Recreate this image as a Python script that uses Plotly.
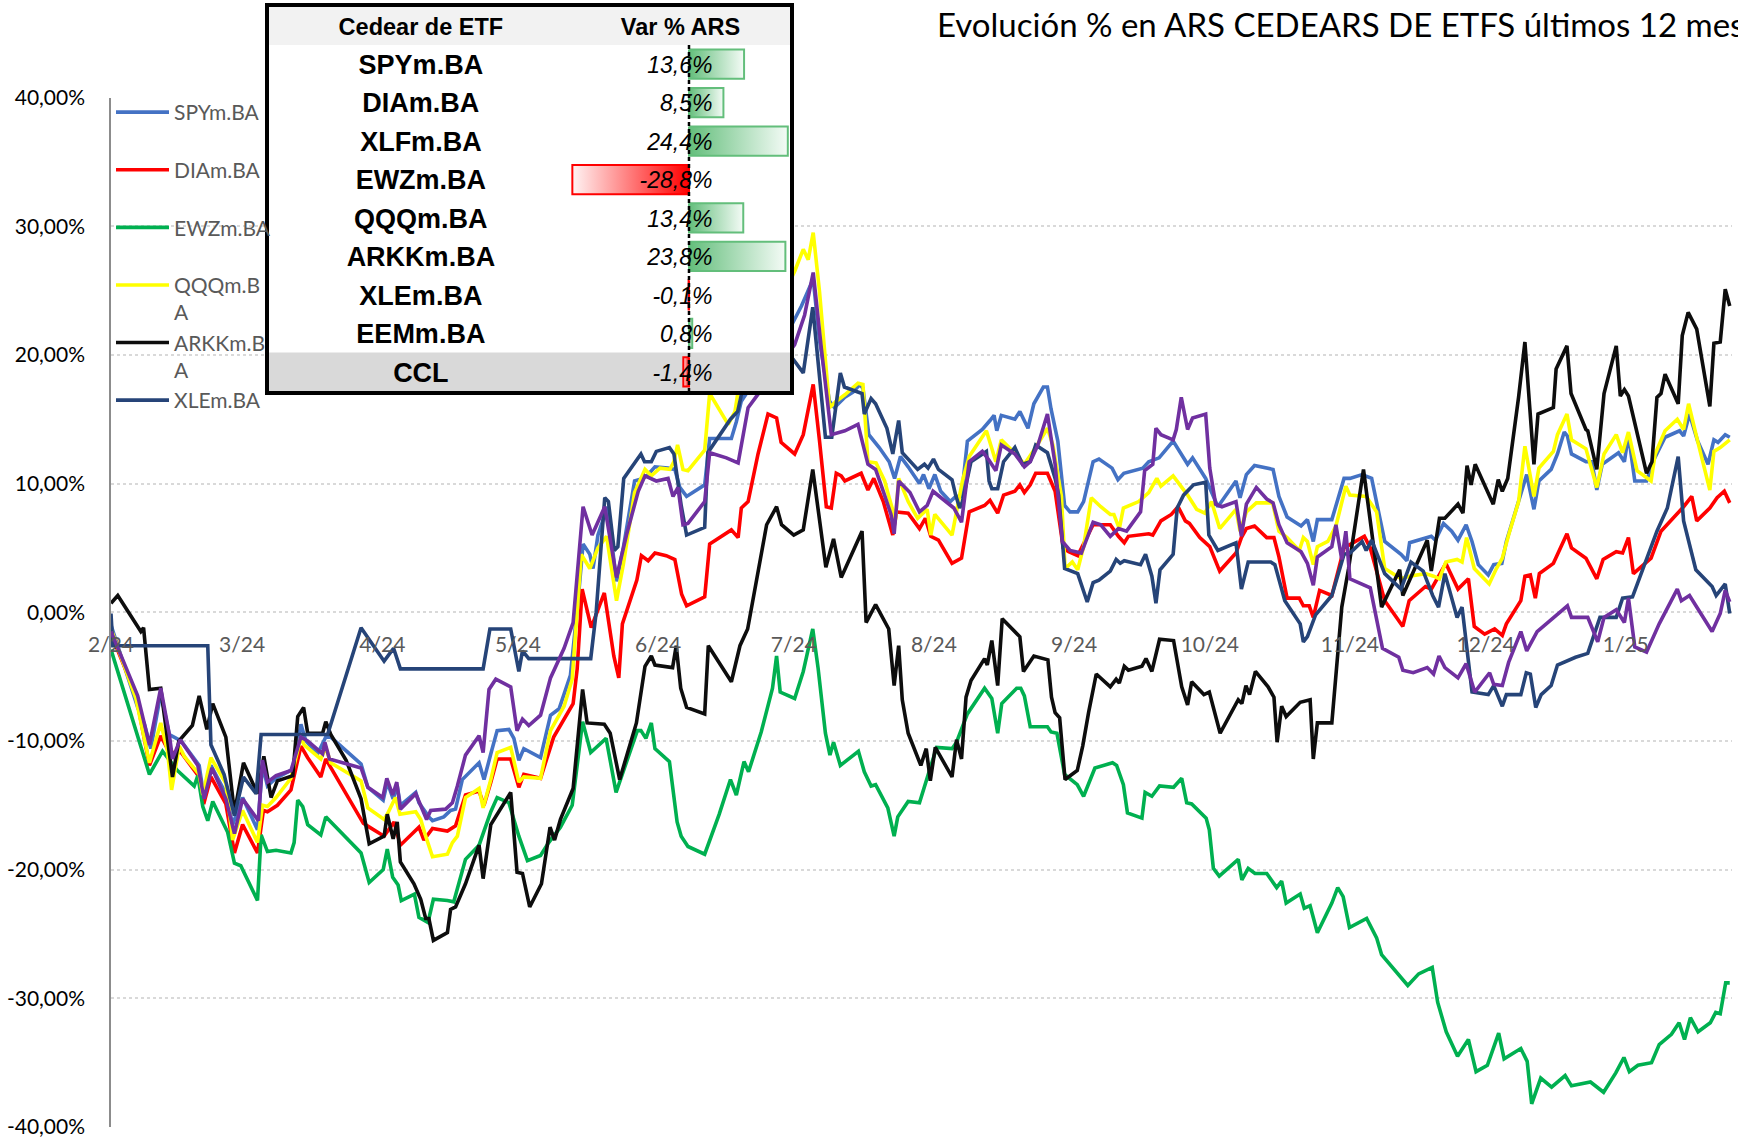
import plotly.graph_objects as go
import pandas as pd

# ---- datos (dias desde 1/2/2024, variacion % en ARS) ----
inicio = pd.Timestamp("2024-02-01")

spy_d = [0, 5.9, 7.4, 8.8, 11, 12.9, 15.5, 19.5, 20.6, 22.1, 25.4, 26.9, 29.1, 32.4, 33.5, 34.6, 36.5, 40.2, 42, 43.1, 45.7, 47.5, 48.6, 55.3, 56.8, 60.2, 61.1, 62.4, 63.3, 64, 67.4, 68.1, 70.3, 71.1, 73.6, 75.1, 76.2, 77.7, 81.4, 82.5, 84, 85.4, 88, 89.1, 90.2, 91.3, 95, 97.2, 99.1, 101.6, 103.3, 104.4, 105.9, 106.6, 107.7, 109.8, 111.8, 113.3, 115.8, 117.7, 118.8, 120.3, 123.2, 124.7, 125.8, 127.3, 131.3, 132.4, 133.5, 137.2, 138.3, 139.4, 150.8, 152.7, 155.3, 156.7, 158.9, 160, 162.3, 164.1, 165.6, 166.3, 167.6, 169.9, 172.1, 173.3, 174.6, 176.3, 178.8, 179.7, 180.9, 182.2, 183.5, 185.6, 186.8, 188.1, 189.4, 192.7, 194.4, 195.3, 195.9, 196.9, 199.9, 201, 202.8, 204.1, 206.2, 207.1, 207.9, 209.4, 210.9, 212.1, 213.8, 215.1, 217.2, 218.5, 221.4, 222.7, 224, 228.2, 229.5, 231.8, 234.9, 238.1, 239.2, 242.1, 244.8, 248.8, 249.7, 251.1, 252.9, 255.8, 257, 258.3, 260.1, 263.2, 264.6, 265.9, 266.8, 270, 272.7, 274, 276.7, 278.8, 280.3, 281.7, 285.3, 286.6, 287.2, 290.7, 292, 292.9, 294.7, 296.5, 297.9, 299.7, 301, 302.4, 304.6, 305.8, 307.6, 308.6, 311.3, 313.1, 314.7, 315.8, 318.5, 319.9, 321.4, 322.1, 323, 326.2, 327.5, 328.6, 329.8, 333.4, 334.7, 335.6, 337, 339.6, 341, 343.7, 346.9, 347.8, 349.1, 350.9, 353.2, 354.5, 355.4, 357, 358]
spy_v = [-1, -7.4, -8.7, -10.6, -6.3, -9.5, -10, -11.9, -14.5, -11.9, -14.1, -16.5, -14.4, -16.9, -11.9, -13.5, -12.9, -12.2, -8.7, -10, -11, -9.7, -9.7, -11.8, -13.6, -14.6, -13.2, -14.5, -13.5, -15, -14, -14.8, -15.9, -16.2, -15.9, -15.4, -15.3, -13, -11.7, -13, -11, -9.2, -9.1, -9.8, -11.5, -10.6, -11.3, -8, -7.5, -4.9, 0.9, 5.3, 4.5, 3.4, 6, 8.2, 2.4, 5, 10.2, 10.4, 10.7, 11.3, 11.2, 11.1, 9.7, 9, 9.9, 13.5, 13.5, 13.5, 14.8, 16.4, 22.5, 23.8, 25.9, 21.1, 16.4, 15.9, 16.7, 17.1, 17.7, 17.4, 13.8, 12.8, 11.7, 10.4, 12.1, 11.3, 10, 10.7, 9.6, 10.7, 9.4, 8.6, 9, 9, 13.3, 14.2, 14.9, 15.3, 14.1, 15.3, 15, 15.6, 14.3, 16.2, 17.5, 17.5, 15.8, 13.3, 8.3, 7.8, 7.8, 8.6, 11.7, 11.9, 11.2, 10.3, 10.8, 11.2, 11.7, 12, 13.3, 11.5, 12, 10.4, 8.2, 10.2, 8.9, 10.7, 11.4, 11.2, 11.1, 9, 7.4, 6.7, 7.2, 5.5, 7.2, 7.2, 10.4, 10.4, 10.7, 10.4, 7.8, 5.5, 4.5, 4, 5.4, 5.8, 5.9, 5.6, 6.9, 6.3, 5.6, 6.8, 5.5, 3.7, 2.9, 3.7, 3.8, 5.5, 8.6, 10.7, 8, 10.2, 11.1, 12.3, 14, 13.7, 12.3, 11.7, 11.7, 9.5, 11.5, 12.4, 11.7, 13.8, 10.2, 10.2, 11.7, 13.6, 14.1, 13.7, 15.4, 13.3, 11.5, 13.4, 13.2, 13.8, 13.6]

dia_d = [0, 5.5, 8.5, 11, 12.9, 15.5, 19.5, 20.5, 22.1, 25.4, 27.3, 29.1, 32.4, 33.7, 34.6, 36.8, 39.8, 42, 43.5, 46.4, 47.5, 55.8, 56.7, 60.4, 62.6, 64, 68.1, 69.2, 71.1, 74.4, 76.2, 78.4, 81.4, 82.5, 84, 85.4, 88.4, 90.2, 91.3, 95, 97.9, 102.2, 103.1, 104.2, 106.2, 109.1, 111.2, 112.3, 113.1, 116.3, 117.3, 118.8, 120.3, 122.8, 124.7, 126.2, 127.3, 131.3, 132.4, 137.2, 138.7, 139.4, 140.9, 143.1, 145.3, 147.2, 148.2, 151.2, 153.1, 155.3, 156.7, 158.2, 159.3, 160.4, 161.5, 162.3, 165.9, 167.4, 168.7, 170.8, 172.9, 173.7, 176.3, 178.8, 180.1, 181.3, 183, 186, 188.1, 189.8, 193.2, 194.4, 196.1, 197.4, 199.9, 201, 202, 203.3, 204.5, 207.1, 208.8, 210.6, 211.8, 213.8, 217.2, 221, 222.8, 224.1, 225, 229.5, 230.4, 232.2, 234.5, 236, 237.6, 238.5, 240.8, 243, 245.2, 248.8, 250, 251.1, 252.9, 255.6, 257.2, 258.3, 260.1, 262.8, 263.7, 265, 265.9, 267.3, 270, 270.9, 272.7, 277.2, 278.5, 281.7, 285.7, 287.1, 290.7, 292, 295.2, 297.9, 300.2, 301.5, 303.8, 306, 307.7, 308.6, 311.8, 312.7, 313.9, 315, 315.9, 319, 322, 323, 326.2, 328.6, 330, 332.9, 334.3, 335.6, 336.7, 340.6, 342.8, 347.8, 349.6, 350.7, 353.6, 355.2, 356.8, 358]
dia_v = [-1.7, -6.4, -11.9, -9.6, -10.9, -10.9, -12.8, -14.9, -12.8, -14.9, -18.7, -16.5, -18.7, -15.4, -15.5, -15, -13.8, -10.4, -11.3, -12.8, -11.4, -16.4, -16.6, -17.4, -16.3, -18.1, -16.7, -17.7, -16.8, -17, -16.6, -14.2, -13.9, -15, -13.2, -11.4, -11.4, -13.6, -12.6, -12.9, -9.7, -7.1, -4.4, 1.8, -1.2, 1.5, -3.4, -5.1, -0.9, 2.5, 4.4, 4, 4.6, 4.4, 4.1, 1.4, 0.5, 1.2, 5.3, 6.4, 5.8, 8.1, 8.6, 12.3, 15.4, 15.1, 13.2, 12.3, 13.8, 17.7, 13.3, 8.2, 8.1, 10.8, 10.6, 10.2, 10.8, 9.5, 10.4, 8.6, 6, 7.8, 7.7, 6.5, 7.3, 5.9, 5.6, 3.8, 4.2, 7.8, 8.3, 8.7, 7.7, 9.1, 9.4, 9.9, 9.3, 9.9, 10.8, 10.8, 9.4, 5, 4.7, 4.4, 6.8, 6.8, 5.9, 5.4, 5.9, 6.1, 6, 7.1, 7.6, 8.2, 7.1, 6.9, 5.8, 5.1, 3.2, 4.6, 5.8, 6.5, 6.7, 5.8, 5.8, 4.3, 1.1, 1.1, 0.5, 0.5, -0.4, 1.7, 1.3, 2.6, 5, 5.9, 5, 0.9, -1.1, 0.9, 2, 1.8, 3.8, 1.8, 2.6, -1.1, -1.7, -1.3, -1.8, -0.9, 0.9, 2.8, 2.9, 1.1, 3, 3.8, 6.1, 5, 4.2, 2.6, 4.1, 4.7, 4.6, 5.8, 3, 4.2, 6.3, 8.2, 9, 7.1, 8.1, 8.9, 9.4, 8.5]

ewz_d = [0, 8.5, 11.4, 13.6, 14.7, 18.4, 19.2, 20.3, 21.4, 22.5, 25.8, 27.3, 28.7, 32.4, 33.2, 34.6, 36.5, 39.8, 40.5, 41.3, 42.4, 43.5, 46.4, 47.5, 55.3, 57.1, 60.2, 61.1, 62.3, 63.5, 64.2, 67.1, 68.1, 70.1, 71.3, 74.4, 75.8, 78.4, 81.4, 84, 85.4, 88, 90.2, 92.1, 95, 96.8, 99.4, 102, 104.3, 106.1, 109.5, 111.7, 116.4, 117.2, 118.3, 119.5, 120.3, 123.5, 125.2, 126.1, 127.6, 131.3, 134.5, 137, 138.3, 140, 141, 143.8, 146.3, 147.2, 148, 151.2, 153.1, 155.2, 156.4, 158, 159, 159.8, 161.3, 165.3, 166.6, 168.1, 169.1, 171.8, 173.2, 174, 176.3, 178.8, 180.5, 181.8, 182.6, 186, 187, 189.4, 193.2, 194.8, 196.1, 197, 200.3, 201.2, 202, 203.3, 207.1, 207.9, 209.2, 210.9, 213.7, 215.1, 217.6, 221.5, 222.4, 223.9, 224.8, 228, 228.7, 230.2, 231.9, 235, 236.8, 237.9, 239, 242.2, 242.9, 243.8, 245.1, 249.3, 250.1, 251.5, 253, 255.6, 257.8, 258.9, 259.9, 263, 263.9, 265.2, 266.8, 270, 271.3, 272.5, 273.9, 277.7, 279.9, 281, 285, 286.8, 289.2, 292.2, 293.4, 295.3, 297.8, 300.2, 301.9, 304.4, 306.9, 308.1, 311.8, 313.2, 314.2, 316.2, 318.6, 321.6, 323, 327.2, 330.1, 332.8, 334.6, 335.8, 337.7, 340.7, 342.4, 345.1, 346.8, 348, 349.3, 351, 353.7, 354.9, 355.9, 357.1, 358]
ewz_v = [-2.9, -12.6, -10.8, -11.8, -12.3, -13.5, -12.7, -15.1, -16.2, -14.7, -17.1, -19.5, -19.7, -22.4, -17.3, -18.6, -18.5, -18.7, -17.9, -14.6, -15.1, -16.5, -17.3, -15.9, -18.7, -21, -20, -18.4, -20.6, -21.2, -22.4, -21.9, -23.7, -24.1, -22.3, -22.4, -22.5, -19.2, -18.1, -15.5, -14.4, -14.8, -17.4, -19.3, -18.9, -17.9, -16.7, -15, -8.5, -10.9, -9.8, -14, -9.2, -9.2, -9.8, -8.6, -10.6, -11.6, -16.3, -17.4, -18.2, -18.8, -15.7, -13, -14.2, -11.6, -12.4, -9.3, -5.9, -3.4, -6.2, -6.7, -4.6, -1.3, -4.4, -9.4, -11.1, -10.1, -11.9, -10.8, -12.4, -13.5, -13.4, -15.2, -17.4, -15.9, -14.7, -14.8, -12.8, -11.4, -10.5, -10.6, -10.1, -7.9, -5.9, -6.7, -9.4, -7.1, -5.9, -5.9, -6.5, -8.9, -8.9, -9.3, -9.4, -12.6, -13.4, -14.3, -12.1, -11.7, -11.9, -13.4, -15.6, -16, -14, -14.3, -13.5, -13.6, -12.9, -14.8, -14.9, -16, -16.9, -19.9, -20.5, -19.2, -20.8, -19.9, -20.3, -20.3, -21.4, -20.9, -22.6, -21.9, -23, -22.8, -24.9, -22.6, -21.4, -22.1, -24.5, -23.8, -25.3, -26.6, -28.3, -29, -28.1, -27.6, -30.3, -32.6, -34.5, -33.2, -35.7, -35.2, -32.7, -34.7, -33.9, -34.9, -38.2, -36.2, -36.9, -36, -36.8, -36.5, -37.3, -35.8, -34.6, -35.7, -35.2, -35, -33.6, -32.8, -31.9, -33.2, -31.5, -32.6, -31.9, -31.1, -31.2, -28.8, -28.8]

qqq_d = [0, 5.5, 8.5, 11, 12.5, 13.4, 15.1, 16.2, 19.5, 20.3, 22.1, 25.4, 26.9, 29.1, 32.4, 33.5, 34.6, 36.5, 39.8, 42, 42.7, 46.4, 47.5, 48.6, 55.3, 56.8, 60.4, 61.1, 62.9, 63.9, 67.4, 68.5, 69.6, 71.1, 74.4, 75.5, 76.6, 78.4, 81.4, 82.3, 84, 85.4, 88.4, 90.2, 91.3, 95, 97.2, 100.2, 102, 102.9, 104, 105.9, 107.7, 109.6, 111.8, 113.3, 115.8, 118.1, 119.5, 121.4, 123.6, 124.5, 125.3, 126.5, 127.6, 131.3, 132.4, 136.5, 138, 138.8, 151.2, 153.1, 154.2, 155.3, 156.7, 158.9, 160.4, 162.3, 165.2, 166.3, 167.4, 169.2, 171.1, 172.1, 173.5, 174.2, 176.3, 178.4, 180.5, 181.3, 182.2, 186, 188.3, 189.8, 193.6, 195.7, 196.9, 199.5, 202, 204.5, 207.1, 208.3, 210.2, 211, 212.6, 213.8, 215.1, 216.8, 218.9, 221, 221.8, 223, 223.9, 227.3, 229.5, 231.3, 232.2, 234.9, 238.1, 240.1, 241.9, 243.4, 245.2, 248.8, 249.7, 251.1, 253.3, 256.9, 258.3, 260.1, 262.8, 263.7, 264.6, 265.9, 266.8, 269.1, 270.9, 273.1, 274, 277.6, 279.9, 281.7, 285.3, 287.1, 290.7, 292.5, 293.8, 295.2, 297.7, 298.8, 299.8, 301.5, 304.8, 306.4, 307.7, 309.1, 311.3, 312.7, 314.7, 315.8, 319, 319.9, 322, 323, 326.2, 328.6, 330.2, 332.9, 334.3, 335.6, 337.5, 340.6, 341.5, 343.7, 346.4, 347.8, 348.9, 350.9, 353.6, 354.5, 355.9, 358]
qqq_v = [-1.3, -6.7, -11.7, -8.6, -10.8, -13.8, -10.4, -11.2, -12.6, -14.2, -11.3, -13.3, -17.7, -15.4, -17.9, -15, -15.1, -14.4, -12.9, -9.7, -10.3, -11.4, -10.5, -11.7, -13.1, -15.2, -16.1, -15.7, -14.4, -15.7, -15.5, -16.1, -17.4, -19, -18.8, -17.9, -17.4, -14.4, -13.7, -15.2, -13, -10.9, -10.5, -13.2, -12.8, -12.9, -9.2, -7.3, -5.2, -0.4, 4.5, 3.4, 5, 5.9, 0.9, 3.7, 9.3, 11.1, 10.6, 11.2, 11.1, 11.7, 13, 11.1, 11, 12.6, 17, 14.6, 15.6, 17.4, 26.5, 28.2, 27.4, 29.5, 24.9, 15.9, 16.4, 16.9, 17.8, 17.7, 11.7, 11.6, 10.2, 8.9, 7.2, 10.4, 8.6, 7.3, 8, 6, 7.6, 6, 10.2, 12.1, 14.1, 11.7, 13.4, 12.5, 11.5, 12.8, 14.3, 13, 9, 3.4, 3.9, 3.3, 5.1, 8.9, 8.2, 7.6, 7.6, 6.5, 8.1, 8.6, 9.3, 10.4, 9.8, 10.6, 9.1, 8, 7.7, 8.6, 6.5, 8, 6.3, 7.8, 8.5, 8.5, 6.3, 5.8, 4.8, 5.8, 5.5, 3.7, 5.1, 5.5, 6.7, 9.8, 9.1, 9, 7.8, 3.4, 2.6, 2.8, 3, 2.8, 2.6, 3.9, 4.1, 3.9, 5.8, 3.4, 2.2, 3.4, 4.2, 6, 8.6, 12.9, 9, 11.2, 12.5, 13.8, 15.4, 13.4, 12.7, 9.7, 12.3, 13.8, 12.4, 14, 11, 10.2, 12.3, 14.1, 15, 14.2, 16.2, 13.3, 9.5, 12.5, 12.8, 13.4]

arkk_d = [0, 1.5, 6.6, 7.2, 8.5, 11, 13.6, 15, 18, 19.5, 21.2, 22.5, 25.4, 27.3, 29.3, 32.4, 33.8, 35.4, 36.8, 40.2, 41.3, 42.6, 43.5, 46.8, 47.5, 48.6, 52, 55.3, 57.1, 60.4, 61.1, 62.4, 63.3, 64, 67, 68.5, 69.6, 70.3, 71.3, 74.4, 75.1, 76.2, 78.4, 81.4, 82.3, 84, 88.4, 89.8, 91, 92.6, 95.2, 97.1, 98.1, 99.4, 102.2, 104.3, 105.3, 109.1, 110.4, 112.5, 116.2, 118.1, 119.5, 120.3, 124.2, 125, 126, 127.3, 131.3, 132.1, 137.2, 139.1, 140.8, 143.4, 145, 147.2, 148.3, 151, 153.1, 155.2, 156.4, 158.1, 159.8, 161.5, 166.1, 167, 169.1, 172, 173.2, 174.2, 175, 176.3, 179.1, 180.3, 181.2, 182.3, 186, 187, 188.1, 189.1, 190.2, 193.2, 193.8, 194.8, 196.1, 197.1, 201, 201.8, 204.1, 207.2, 208, 208.8, 209.8, 211, 213.7, 214.9, 216.2, 217.9, 221, 222.3, 223, 224.1, 225, 228, 228.9, 230.2, 231.9, 235, 236.8, 238.1, 239, 241.7, 242.9, 245.3, 249.3, 250.1, 251, 251.8, 253.1, 255.9, 257.2, 257.9, 258.9, 259.9, 263, 265.2, 265.9, 266.8, 270, 272.2, 273.7, 277, 281, 285, 285.7, 291.1, 292, 293.8, 295, 297.9, 299, 299.9, 300.8, 301.7, 305.7, 306.8, 307.7, 308.9, 311.3, 312.7, 314.7, 315.6, 319, 319.6, 322, 322.9, 326.2, 326.6, 328.6, 330.2, 332.9, 333.8, 334.7, 335.6, 339.6, 340.8, 341.9, 342.8, 343.7, 346.6, 347.5, 348.8, 350.7, 353.6, 354.5, 355.9, 357, 358]
arkk_v = [0.7, 1.3, -1.5, -1.2, -6, -5.9, -12.8, -10, -8.8, -6.5, -9.1, -7.1, -9.7, -15.6, -11.7, -14.1, -11.2, -14.4, -13.1, -12.7, -8.1, -7.4, -9.4, -9.4, -8.5, -9.5, -11.5, -14.5, -18, -17.4, -15.7, -17.6, -16.3, -19.4, -21.1, -22.3, -23.8, -23.8, -25.5, -24.9, -23.1, -22.9, -21.1, -18.1, -20.7, -16.5, -14, -20.2, -20.3, -22.9, -21.1, -16.7, -17.7, -16.1, -13.7, -6, -8.6, -8.7, -9.4, -13, -8.6, -4.2, -3.4, -4.1, -4.3, -2.6, -5.9, -7.4, -7.9, -2.6, -5.4, -2.6, -1.3, 3.7, 6.8, 8.2, 6.8, 6, 6.4, 11.1, 8.1, 3.5, 5.7, 2.7, 6.3, -0.8, 0.6, -1.3, -5.7, -2.6, -6.8, -9.4, -11.9, -10.6, -13.1, -10.5, -12.8, -9.9, -11.4, -6.6, -5.3, -3.6, -4.1, -2.2, -5.7, -0.5, -1.9, -4.6, -3.4, -3.7, -6.6, -7.8, -8.2, -13, -12.3, -10.4, -7.8, -4.8, -5.8, -5.2, -5.5, -4.2, -4.5, -4.2, -3.6, -4.6, -2.1, -2.2, -5.8, -7.2, -5.4, -6.4, -6.2, -9.4, -6.8, -7.1, -5.7, -6.4, -4.6, -5.8, -6.6, -10.1, -7.3, -8.1, -7, -6.8, -11.4, -8.6, -8.6, 0.4, 3.4, 11.1, 0.4, 3.3, 1.3, 5.6, 3.2, 7.3, 7.3, 8.4, 7.7, 11.4, 9.9, 11.5, 8.4, 10.3, 9.4, 10.4, 16.7, 21, 11.5, 15.4, 15.9, 18.9, 20.7, 17, 14.2, 14.1, 11.1, 17, 20.7, 16.8, 17.3, 16.8, 10.8, 11.7, 16.7, 17, 18.5, 16.2, 21.5, 23.3, 22, 16, 20.9, 21, 25.1, 23.8]

xle_d = [0, 0.4, 21.4, 22.1, 25, 27.3, 29.3, 32.1, 33.2, 47.9, 55.3, 60.4, 62.5, 64, 82.3, 83.8, 88.4, 89.5, 90.2, 91, 92.4, 106.1, 107.3, 109.2, 110, 111.3, 112.1, 113.4, 117.2, 118, 119.5, 120.6, 123.5, 124.5, 126.1, 127.3, 131.3, 132, 133.7, 137, 138.6, 139.6, 151, 153.1, 155.2, 156.4, 158, 159.4, 161.3, 162.2, 164.9, 166.1, 166.6, 168.1, 169.1, 171.6, 172.9, 174.2, 175, 176.7, 178.4, 179.9, 180.7, 181.9, 183, 186, 186.8, 187.7, 188.3, 190.2, 193.6, 194.2, 194.8, 196.1, 197.4, 199.9, 201, 201.6, 203.3, 204.5, 207.1, 208.8, 209.6, 210.9, 213.8, 215.9, 217.2, 218.5, 221, 222.3, 223.2, 224.1, 227.7, 228.8, 230.2, 231.1, 232, 234.9, 235.8, 237.2, 239.4, 242.1, 242.8, 244.8, 248.8, 250, 251.5, 256.5, 257.4, 259.6, 263, 263.7, 264.6, 266.4, 270, 272.7, 274, 276.7, 277.6, 278.8, 281.7, 285.3, 287.5, 290.2, 292.3, 293.6, 295, 297.7, 298.8, 301, 304.6, 305.8, 307.7, 308.6, 311.8, 313, 313.9, 315.1, 316.3, 318.5, 319.9, 323.9, 326.6, 329.3, 332.9, 334.3, 336.5, 341.9, 344.2, 346.6, 347.8, 350.5, 354.1, 355, 357, 358]
xle_v = [-0.1, -2.6, -2.6, -10.3, -12.6, -15.8, -12.8, -14.1, -9.5, -9.5, -1.2, -3.8, -2.8, -4.4, -4.4, -1.3, -1.3, -3.2, -4.6, -3, -3.6, -3.6, 0, 8.9, 8.6, 4.8, 5.1, 10.4, 12.3, 11.7, 11.7, 12.5, 12.8, 12.3, 8.3, 6, 6.6, 12.4, 13.3, 15, 15.6, 17.2, 19.6, 18.6, 23.7, 19.6, 13.6, 13.6, 18.6, 17.5, 17.2, 17, 15.4, 16.6, 16.2, 14.3, 12.3, 14.9, 12.4, 11.7, 11.1, 11.5, 11.2, 11.9, 11.1, 10.3, 9.1, 8.1, 8.6, 11.7, 12.5, 10.2, 9.6, 9.6, 11.7, 12.8, 12, 11.5, 11.7, 13, 12.4, 10.4, 9.1, 3.4, 3, 0.8, 2.3, 2.5, 3.2, 4.1, 3.8, 4, 3.7, 4.5, 2.8, 0.7, 3.3, 4.5, 8.1, 9.1, 9.9, 10.1, 6, 4.8, 5.4, 1.8, 3.9, 3.9, 3.7, 0.9, -0.9, -2.3, -1.9, -0.2, 1.3, 4.5, 4.6, 5.5, 4.8, 5.6, 3, 1.8, 3.9, 3.2, 1.3, 0.4, 3, -0.4, 0.4, -6.2, -6.4, -5.7, -7.3, -6.4, -6.4, -4.7, -4.8, -7.4, -6.4, -5.7, -4.1, -3.5, -3.2, -0.4, -0.4, 1.1, 1.2, 6.3, 8.1, 12.1, 7.1, 3.3, 2, 1.3, 2.2, -0.1]

eem_d = [0, 5.9, 8.5, 11, 12.9, 13.6, 15.3, 19.2, 20.6, 22.3, 25.4, 27.3, 29.1, 32.6, 33.5, 34.6, 36.5, 39.8, 42, 43.5, 46.8, 47.3, 48.3, 55.3, 56.8, 60.1, 61, 62.3, 63.2, 64, 67.4, 68.5, 69.8, 70.7, 74, 75.5, 76.6, 78.4, 81.4, 82.3, 83.6, 85.1, 88.4, 89.8, 91, 92.4, 95, 97.2, 100.2, 102.2, 104.4, 106.4, 109.2, 111.8, 114, 116.6, 118.1, 120.6, 123.2, 124.3, 125.4, 126.5, 127.6, 131.3, 132.4, 136.1, 138.7, 140.9, 151.2, 153.4, 155.3, 157.1, 159.3, 162.3, 165.2, 167.4, 169.1, 170.8, 172.5, 173.2, 174.2, 176.7, 178.8, 180.5, 181.8, 186.4, 188.1, 189.8, 192.7, 194, 195.7, 196.9, 199.9, 202, 203.3, 205, 207.1, 208.8, 210.4, 212.1, 214.6, 217.2, 218.9, 221, 222.8, 224.6, 227.7, 228.6, 230.4, 231.1, 232.2, 234.9, 235.6, 236.7, 238.1, 239.2, 242.1, 243, 244.3, 245.7, 248.8, 250, 251.1, 253.3, 255.6, 257, 258.3, 260.1, 263.2, 264.6, 265.9, 266.8, 270, 270.9, 272.2, 273.1, 274, 278.5, 279.9, 281.2, 284.8, 285.7, 288, 291.1, 292.5, 293.7, 295, 297.9, 299.7, 301.6, 304.9, 305.8, 307.7, 309.1, 311.8, 313.1, 315.4, 319, 322.1, 323, 326.6, 328.8, 330.2, 332.9, 334.7, 335.6, 337, 339.6, 342.4, 346.4, 347.3, 349.1, 351.4, 354.1, 355.9, 357, 358]
eem_v = [-1.5, -6.5, -10.3, -5.9, -9.5, -11.4, -9.9, -11.9, -14.5, -12.1, -14.5, -17.2, -14.5, -16.2, -11.5, -13.2, -12.7, -12.3, -9.7, -10, -11, -10.1, -11.4, -12.1, -13.6, -14.4, -12.9, -14.2, -13.2, -15.3, -14.1, -15, -16.1, -15.4, -15.3, -14.8, -13.5, -11.1, -9.6, -10.9, -6, -5.2, -5.8, -9.2, -8.3, -8.8, -8, -5.1, -2.8, -0.8, 8.2, 6, 8.2, 2.7, 6, 9.4, 10.6, 10.2, 10.4, 9, 9.7, 6.8, 6.9, 8.6, 12.4, 12, 11.6, 15.9, 20.8, 23.1, 26.4, 20.5, 13.8, 14.1, 14.6, 11.5, 11.1, 9.4, 7.6, 6.1, 10.2, 9.3, 7.8, 8.3, 9.4, 8.1, 7, 11.7, 12.5, 11.9, 11, 13, 12.3, 11.3, 11.7, 13, 15.4, 11.5, 5.5, 4.8, 4.6, 7, 6.8, 5.9, 6.5, 6.3, 7.8, 11, 11.5, 14.3, 13.8, 13.4, 14.2, 16.7, 14.2, 15.1, 15.4, 11.2, 8.4, 8.2, 8.6, 5.9, 8.4, 9.7, 8.8, 8.5, 6.8, 5.4, 4.7, 3.8, 2.1, 4.3, 5.1, 6.8, 4.1, 6.3, 2.6, 1.9, -0.5, -2.8, -3.5, -4.5, -4.7, -4.3, -4.8, -3.4, -4.3, -5.1, -4, -6.2, -4.7, -5.6, -5.7, -3.9, -1.5, -3, -1.5, -0.4, 0.5, -0.4, -0.4, -2.3, -0.4, 0.2, -0.8, 1.1, -2.7, -3.1, -0.9, 1.8, 0.9, 1.3, 0, -1.5, -0.1, 1.7, 0.8]

series = [
    ("SPYm.BA", spy_d, spy_v, "#4472C4", True),
    ("DIAm.BA", dia_d, dia_v, "#FF0000", True),
    ("EWZm.BA", ewz_d, ewz_v, "#00B050", True),
    ("QQQm.B<br>A", qqq_d, qqq_v, "#FFFF00", True),
    ("ARKKm.B<br>A", arkk_d, arkk_v, "#0D0D0D", True),
    ("XLEm.BA", xle_d, xle_v, "#264478", True),
    ("EEMm.BA", eem_d, eem_v, "#7030A0", False),
]

# tabla de rendimientos
tabla_etf = ["SPYm.BA", "DIAm.BA", "XLFm.BA", "EWZm.BA", "QQQm.BA", "ARKKm.BA", "XLEm.BA", "EEMm.BA", "CCL"]
tabla_var = [13.6, 8.5, 24.4, -28.8, 13.4, 23.8, -0.1, 0.8, -1.4]

y_ticks = [-40, -30, -20, -10, 0, 10, 20, 30, 40]
meses = pd.date_range("2024-02-01", "2025-01-01", freq="MS")

FONT = "Lato, 'Liberation Sans', sans-serif"
TFONT = "'Liberation Sans', Arial, sans-serif"

fig = go.Figure()

for nombre, d, v, color, leg in series:
    fig.add_trace(go.Scatter(
        x=inicio + pd.to_timedelta(d, unit="D"), y=v,
        name=nombre if "<br>" in nombre else nombre + "<br> ",
        mode="lines", line=dict(color=color, width=3.6),
        legendgroup=nombre, showlegend=leg, hoverinfo="skip"))

# ---- tabla (segundo par de ejes) ----
X2_MIN, X2_MAX = -103.7, 24.94
n = len(tabla_etf)


def rect(x0, x1, y0, y1):
    return [x0, x1, x1, x0, x0], [y0, y0, y1, y1, y0]


def fondo(y0, y1, color):
    xs, ys = rect(X2_MIN, X2_MAX, y0, y1)
    fig.add_trace(go.Scatter(x=xs, y=ys, xaxis="x2", yaxis="y2", mode="lines",
                             fill="toself", fillcolor=color, line=dict(width=0),
                             showlegend=False, hoverinfo="skip"))


fondo(-0.5, n + 0.5, "white")
fondo(-0.5, 0.5, "#F2F2F2")
fondo(n - 0.5, n + 0.5, "#D9D9D9")

for i, val in enumerate(tabla_var):
    fila = i + 1
    xs, ys = rect(0, val, fila - 0.38, fila + 0.38)
    if val >= 0:
        cs, borde = [[0, "#63BE7B"], [1, "#F4FBF6"]], "#63BE7B"
    else:
        cs, borde = [[0, "#FFF4F4"], [1, "#FF0000"]], "#FF0000"
    fig.add_trace(go.Scatter(x=xs, y=ys, xaxis="x2", yaxis="y2", mode="lines",
                             fill="toself", fillgradient=dict(type="horizontal", colorscale=cs),
                             line=dict(color=borde, width=2),
                             showlegend=False, hoverinfo="skip"))

fig.add_trace(go.Scatter(x=[0, 0], y=[0.5, n + 0.5], xaxis="x2", yaxis="y2", mode="lines",
                         line=dict(color="black", width=2.5, dash="4px,3px"),
                         showlegend=False, hoverinfo="skip"))

DY = 0.08  # el texto de la tabla queda algo bajo el centro de la fila
fig.add_trace(go.Scatter(x=[-66.2, -2.1], y=[DY, DY], xaxis="x2", yaxis="y2", mode="text",
                         text=["Cedear de ETF", "Var % ARS"],
                         textfont=dict(family=TFONT, size=23.5, color="black", weight="bold"),
                         showlegend=False, hoverinfo="skip"))
fig.add_trace(go.Scatter(x=[-66.2] * n, y=[r + 1 + DY for r in range(n)], xaxis="x2", yaxis="y2",
                         mode="text", text=tabla_etf,
                         textfont=dict(family=TFONT, size=27, color="black", weight="bold"),
                         showlegend=False, hoverinfo="skip"))
fig.add_trace(go.Scatter(x=[5.8] * n, y=[r + 1 + DY for r in range(n)], xaxis="x2", yaxis="y2",
                         mode="text", textposition="middle left",
                         text=[f"{v:.1f}".replace(".", ",") + "%" for v in tabla_var],
                         textfont=dict(family=TFONT, size=23, color="black", style="italic"),
                         showlegend=False, hoverinfo="skip"))

W, H = 1738, 1139
y_dom = [12 / H, 1 - 97.5 / H]

fig.update_layout(
    template="none",
    width=W, height=H,
    margin=dict(l=0, r=0, t=0, b=0),
    paper_bgcolor="white", plot_bgcolor="rgba(0,0,0,0)",
    font=dict(family=FONT, color="#000000"),
    title=dict(text="Evolución % en ARS CEDEARS DE ETFS últimos 12 meses",
               x=937 / W, xanchor="left", y=1 - 25 / H, yanchor="middle",
               font=dict(family=FONT, size=33, color="#000000")),
    xaxis=dict(type="date", domain=[111 / W, 1732 / W],
               range=[inicio, inicio + pd.Timedelta(days=358.5)],
               anchor="free", position=(y_dom[0] + y_dom[1]) / 2,
               tickvals=meses, ticktext=[f"{m.month}/{m.strftime('%y')}" for m in meses],
               showgrid=False, showline=False, zeroline=False, ticks="",
               ticklabelstandoff=18, automargin=False,
               tickfont=dict(family=FONT, size=21, color="#595959")),
    yaxis=dict(domain=y_dom, range=[-40, 40], anchor="x",
               tickvals=y_ticks, ticktext=[f"{t:.2f}".replace(".", ",") + "%" for t in y_ticks],
               showgrid=True, gridcolor="#D9D9D9", griddash="dot", gridwidth=1.5,
               zeroline=False, showline=True, linecolor="#8C8C8C", linewidth=1.5,
               ticks="", ticklabelstandoff=20, automargin=False,
               tickfont=dict(family=FONT, size=21, color="#000000")),
    xaxis2=dict(domain=[269 / W, 790 / W], range=[X2_MIN, X2_MAX], anchor="y2",
                showgrid=False, zeroline=False, showticklabels=False, ticks="",
                showline=True, mirror=True, linecolor="black", linewidth=3.5),
    yaxis2=dict(domain=[1 - 391 / H, 1 - 6.5 / H], range=[n + 0.5, -0.5], anchor="x2",
                showgrid=False, zeroline=False, showticklabels=False, ticks="",
                showline=True, mirror=True, linecolor="black", linewidth=3.5),
    legend=dict(x=111 / W, y=1 - 92 / H, xanchor="left", yanchor="top",
                bgcolor="rgba(0,0,0,0)", font=dict(family=FONT, size=21, color="#595959"),
                tracegroupgap=0, valign="top", itemwidth=53),
    showlegend=True,
)

# la pagina por defecto deja 8px de margen en <body>
fig.write_html("out.html", config={"displayModeBar": False},
               post_script="document.body.style.margin='0px';")
